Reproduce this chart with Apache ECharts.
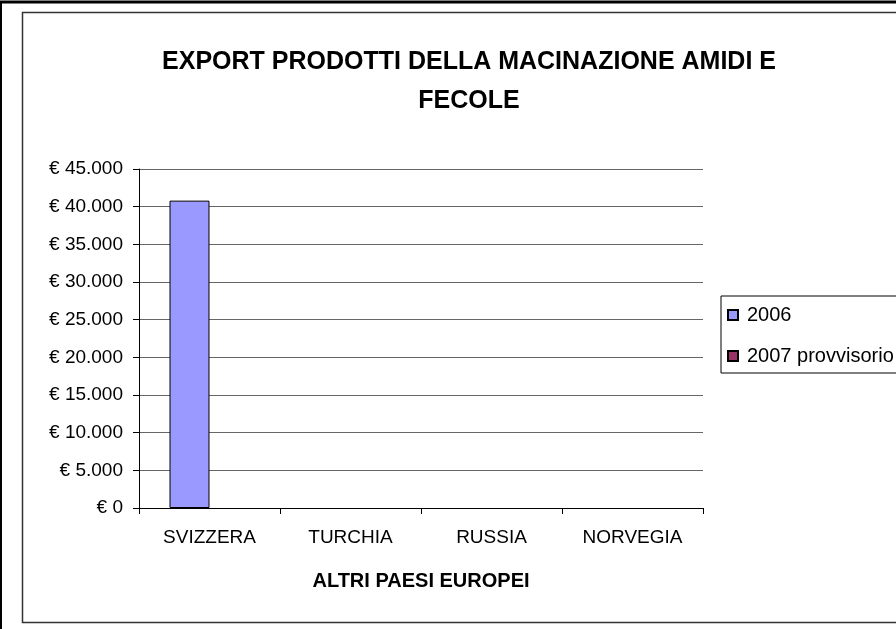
<!DOCTYPE html>
<html>
<head>
<meta charset="utf-8">
<script src="https://cdn.jsdelivr.net/npm/echarts@6/dist/echarts.min.js"></script>
<style>
  html, body { margin: 0; padding: 0; background: #fff; }
  #chart { width: 896px; height: 629px; }
</style>
</head>
<body>
<div id="chart"></div>
<script>
// dati
const categories = ['SVIZZERA', 'TURCHIA', 'RUSSIA', 'NORVEGIA'];
const seriesNames = ['2006', '2007 provvisorio'];
const values2006 = [40800, null, null, null];
const values2007 = [null, null, null, null];
const yTicks = { min: 0, max: 45000, interval: 5000 };

const chart = echarts.init(document.getElementById('chart'));

function euro(v) {
  if (v === 0) return '€ 0';
  return '€ ' + String(v).replace(/\B(?=(\d{3})+(?!\d))/g, '.');
}

const option = {
  animation: false,
  textStyle: { fontFamily: 'Liberation Sans, Arial, sans-serif' },
  title: {
    text: 'EXPORT PRODOTTI DELLA MACINAZIONE AMIDI E\nFECOLE',
    left: 464,
    top: 38,
    textAlign: 'center',
    textStyle: { fontSize: 25, fontWeight: 'bold', color: '#000', lineHeight: 39 }
  },
  legend: {
    orient: 'vertical',
    left: 721,
    top: 296,
    padding: [9, 40, 7, 6],
    itemGap: 21,
    itemWidth: 10,
    itemHeight: 10,
    borderColor: '#000',
    borderWidth: 1,
    textStyle: { fontSize: 20, color: '#000', padding: [0, 0, 0, 4] },
    data: seriesNames.map(n => ({ name: n, icon: 'rect' }))
  },
  grid: { left: 139, top: 169, right: 193, bottom: 121 },
  xAxis: {
    type: 'category',
    data: categories,
    name: 'ALTRI PAESI EUROPEI',
    nameLocation: 'middle',
    nameGap: 63,
    nameTextStyle: { fontSize: 20, fontWeight: 'bold', color: '#000' },
    axisLine: { lineStyle: { color: '#000', width: 1 } },
    axisTick: { show: true, length: 6, lineStyle: { color: '#000' } },
    axisLabel: { fontSize: 19, color: '#000', margin: 20 }
  },
  yAxis: {
    type: 'value',
    min: yTicks.min,
    max: yTicks.max,
    interval: yTicks.interval,
    axisLine: { show: true, lineStyle: { color: '#000', width: 1 } },
    axisTick: { show: true, length: 6, lineStyle: { color: '#000' } },
    axisLabel: { fontSize: 19, color: '#000', margin: 16, formatter: euro },
    splitLine: { lineStyle: { color: '#666', width: 1 } }
  },
  series: [
    {
      name: seriesNames[0],
      type: 'bar',
      data: values2006,
      barWidth: 40,
      barGap: '0%',
      itemStyle: { color: '#9999FF', borderColor: '#000', borderWidth: 1 }
    },
    {
      name: seriesNames[1],
      type: 'bar',
      data: values2007,
      barWidth: 40,
      itemStyle: { color: '#993366', borderColor: '#000', borderWidth: 1 }
    }
  ],
  graphic: [
    { type: 'rect', shape: { x: 0.5, y: 2, width: 1000, height: 800 }, style: { fill: 'none', stroke: '#000', lineWidth: 3 }, silent: true },
    { type: 'rect', shape: { x: 22.5, y: 12.5, width: 1000, height: 610 }, style: { fill: 'none', stroke: '#333', lineWidth: 1.5 }, silent: true }
  ]
};

chart.setOption(option);
</script>
</body>
</html>
